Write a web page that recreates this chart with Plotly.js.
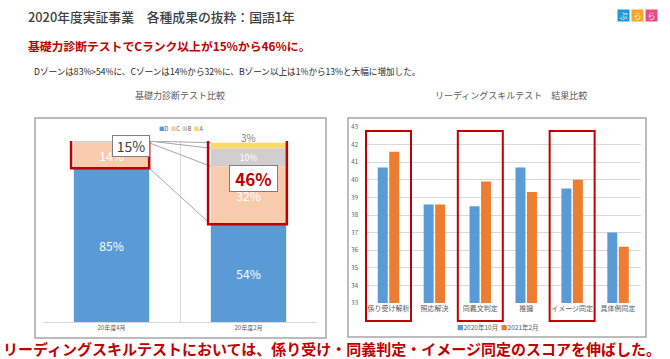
<!DOCTYPE html>
<html>
<head>
<meta charset="utf-8">
<script src="https://cdn.plot.ly/plotly-3.0.1.min.js"></script>
<style>
html,body{margin:0;padding:0;background:#fff;}
#chart{width:670px;height:359px;}
</style>
</head>
<body>
<div id="chart"></div>
<script>
// ---- data ----
const periods = ['20年度4月', '20年度2月'];
const zoneD = [85, 54];
const zoneC = [14, 32];
const zoneB = [1, 10];
const zoneA = [0, 3];
const zoneNames = ['D', 'C', 'B', 'A'];

const skills = ['係り受け解析', '照応解決', '同義文判定', '推論', 'イメージ同定', '具体例同定'];
const score2020Oct = [40.7, 38.6, 38.5, 40.7, 39.5, 37.0];
const score2021Feb = [41.6, 38.6, 39.9, 39.3, 40.0, 36.2];
const seriesNames = ['2020年10月', '2021年2月'];
const highlightedSkills = ['係り受け解析', '同義文判定', 'イメージ同定'];
const yTicks = [33, 34, 35, 36, 37, 38, 39, 40, 41, 42, 43];

// ---- styling ----
const FONT = '"Noto Sans CJK JP", "Noto Sans", sans-serif';
const zoneColors = ['#5B9BD5', '#F8CBAD', '#D0CECE', '#FFD966'];
const seriesColors = ['#5B9BD5', '#ED7D31'];
const RED = '#C00000';
const W = 670, H = 359;
const px = v => v / W;
const py = v => 1 - v / H;
const barW = 0.55;

const zones = [zoneD, zoneC, zoneB, zoneA];
const traces = [];
const cum = [];   // cumulative tops per zone
let base = periods.map(() => 0);
zones.forEach((vals, k) => {
  const b = base.slice();
  traces.push({
    type: 'bar', name: zoneNames[k], x: periods, y: vals, base: b,
    xaxis: 'x', yaxis: 'y', offsetgroup: 'L', width: barW,
    marker: {color: zoneColors[k]},
    text: vals.map(v => (v >= 5 && k < 3) ? v + '%' : ''),
    textposition: 'inside', insidetextanchor: 'middle',
    textfont: {color: '#ffffff', size: 12, family: FONT},
    showlegend: false, hoverinfo: 'skip', cliponaxis: false
  });
  base = base.map((v, i) => v + vals[i]);
  cum.push(base.slice());
});

[score2020Oct, score2021Feb].forEach((vals, k) => {
  traces.push({
    type: 'bar', name: seriesNames[k], x: skills, y: vals,
    xaxis: 'x2', yaxis: 'y2', marker: {color: seriesColors[k]},
    showlegend: false, hoverinfo: 'skip'
  });
});

const shapes = [];
// frames
shapes.push({type: 'rect', xref: 'paper', yref: 'paper', x0: px(35), x1: px(326), y0: py(338), y1: py(118),
  line: {color: '#a6a6a6', width: 1.5}});
shapes.push({type: 'rect', xref: 'paper', yref: 'paper', x0: px(348), x1: px(646), y0: py(337), y1: py(118),
  line: {color: '#a6a6a6', width: 1.5}});
// series lines
cum.forEach(c => {
  shapes.push({type: 'line', xref: 'x', yref: 'y', x0: 0 + barW / 2, x1: 1 - barW / 2, y0: c[0], y1: c[1],
    line: {color: '#a6a6a6', width: 1}});
});
// red highlight boxes on stacked bars
const totals = cum[cum.length - 1];
[0, 1].forEach(i => {
  shapes.push({type: 'rect', xref: 'x', yref: 'y', x0: i - barW / 2 - 0.02, x1: i + barW / 2 + (i ? 0.005 : 0),
    y0: zoneD[i], y1: 100.8, line: {color: RED, width: 2.5}});
});
// red boxes on skills
highlightedSkills.forEach(s => {
  const i = skills.indexOf(s);
  shapes.push({type: 'rect', xref: 'x2', yref: 'paper', x0: i - 0.49, x1: i + 0.49,
    y0: py(321), y1: py(131), line: {color: RED, width: 2}});
});

const sq = (c) => '<span style="color:' + c + '">■</span>';
const annotations = [
  {text: '2020年度実証事業　各種成果の抜粋：国語1年', xref: 'paper', yref: 'paper', x: px(26), y: py(17),
    xanchor: 'left', yanchor: 'middle', showarrow: false, font: {family: FONT, size: 12.8, weight: 500, color: '#404040'}},
  {text: '<b>基礎力診断テストでCランク以上が15%から46%に。</b>', xref: 'paper', yref: 'paper', x: px(26), y: py(45),
    xanchor: 'left', yanchor: 'middle', showarrow: false, font: {family: FONT, size: 11.8, color: RED}},
  {text: 'Dゾーンは83%>54%に、Cゾーンは14%から32%に、Bゾーン以上は1%から13%と大幅に増加した。', xref: 'paper', yref: 'paper',
    x: px(32), y: py(71), xanchor: 'left', yanchor: 'middle', showarrow: false, font: {family: FONT, size: 8.6, color: '#262626'}},
  {text: '基礎力診断テスト比較', xref: 'paper', yref: 'paper', x: px(180), y: py(95), xanchor: 'center', yanchor: 'middle',
    showarrow: false, font: {family: FONT, size: 9, color: '#595959'}},
  {text: 'リーディングスキルテスト　結果比較', xref: 'paper', yref: 'paper', x: px(511), y: py(95), xanchor: 'center', yanchor: 'middle',
    showarrow: false, font: {family: FONT, size: 9, color: '#595959'}},
  {text: zoneNames.map((n, k) => sq(zoneColors[k]) + n).join('  '), xref: 'paper', yref: 'paper', x: px(181), y: py(129),
    xanchor: 'center', yanchor: 'middle', showarrow: false, font: {family: FONT, size: 5.5, color: '#595959'}},
  {text: seriesNames.map((n, k) => sq(seriesColors[k]) + n).join('  '), xref: 'paper', yref: 'paper', x: px(498), y: py(327),
    xanchor: 'center', yanchor: 'middle', showarrow: false, font: {family: FONT, size: 6.5, color: '#595959'}},
  {text: '<b>リーディングスキルテストにおいては、係り受け・同義判定・イメージ同定のスコアを伸ばした。</b>', xref: 'paper', yref: 'paper',
    x: px(332), y: py(348), xanchor: 'center', yanchor: 'middle', showarrow: false, font: {family: FONT, size: 15, color: RED}},
  // highlight labels computed from data
  {text: (100 - zoneD[0]) + '%', xref: 'x', yref: 'y', x: 0.14, y: 97, showarrow: false,
    font: {family: FONT, size: 14, color: '#404040'}, bgcolor: '#ffffff', bordercolor: '#7f7f7f', borderwidth: 1, borderpad: 0, width: 36},
  {text: '<b>' + (100 - zoneD[1]) + '%</b>', xref: 'x', yref: 'y', x: 1.033, y: 79.5, showarrow: false,
    font: {family: FONT, size: 17, color: RED}, bgcolor: '#ffffff', bordercolor: '#7f7f7f', borderwidth: 1, borderpad: 0, width: 47},
  {text: zoneA[1] + '%', xref: 'x', yref: 'y', x: 1, y: totals[1], yanchor: 'bottom', yshift: -4, showarrow: false,
    font: {family: FONT, size: 10, color: '#7f7f7f'}},
  // logo
  {text: 'ぷ', xref: 'paper', yref: 'paper', x: px(630), y: py(9), showarrow: false, bgcolor: '#1E9BD7', width: 11, height: 11,
    font: {family: FONT, size: 8, color: '#ffffff'}, borderpad: 0},
  {text: 'ら', xref: 'paper', yref: 'paper', x: px(644), y: py(9), showarrow: false, bgcolor: '#F5A623', width: 11, height: 11,
    font: {family: FONT, size: 8, color: '#ffffff'}, borderpad: 0},
  {text: 'ら', xref: 'paper', yref: 'paper', x: px(658), y: py(9), showarrow: false, bgcolor: '#E84C8B', width: 11, height: 11,
    font: {family: FONT, size: 8, color: '#ffffff'}, borderpad: 0}
];

const layout = {
  width: W, height: H, margin: {l: 0, r: 0, t: 0, b: 0},
  paper_bgcolor: '#ffffff', plot_bgcolor: 'rgba(0,0,0,0)',
  barmode: 'group', bargap: 0.5, bargroupgap: 0.13,
  showlegend: false,
  font: {family: FONT},
  xaxis: {domain: [px(43), px(317)], type: 'category', range: [-0.5, 1.5], tickson: 'boundaries',
    showgrid: true, gridcolor: '#d9d9d9', showline: true, linecolor: '#d9d9d9', ticks: '',
    tickfont: {size: 6, color: '#595959', family: FONT}, fixedrange: true},
  yaxis: {domain: [py(322), py(141)], range: [0, 100], showticklabels: false, showgrid: false, zeroline: false,
    fixedrange: true},
  xaxis2: {domain: [px(365), px(641)], type: 'category', anchor: 'y2', ticks: '', showgrid: false, showline: false,
    tickfont: {size: 7, color: '#595959', family: FONT}, fixedrange: true},
  yaxis2: {domain: [py(303), py(127)], anchor: 'x2', range: [33, 43], tickvals: yTicks, showgrid: true,
    gridcolor: '#d9d9d9', zeroline: false, ticks: '', ticklabelstandoff: 6,
    tickfont: {size: 6, color: '#595959', family: FONT}, fixedrange: true},
  shapes: shapes,
  annotations: annotations
};

Plotly.newPlot('chart', traces, layout, {displayModeBar: false, staticPlot: true});
</script>
</body>
</html>
